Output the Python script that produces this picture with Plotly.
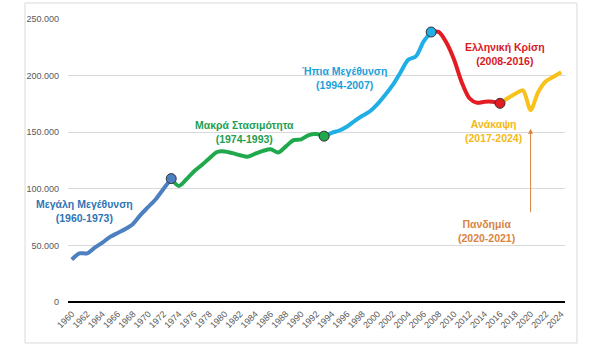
import plotly.graph_objects as go

years = list(range(1960, 2025))
gdp = [
    37500, 43000, 43000, 48000, 52500, 57500, 61000, 64500, 69000, 77000,
    84000, 91000, 100000, 109000, 102500, 108500, 115500, 121000, 127000, 132500,
    133000, 131500, 129700, 128300, 131000, 133500, 135000, 132000, 137500, 143000,
    143700, 147500, 148400, 146500, 149500, 151500, 155000, 160000, 164500, 168500,
    175000, 183000, 192000, 203000, 214000, 217000, 230000, 238500, 238500, 229000,
    214000, 194000, 180000, 176000, 177000, 177000, 175500, 180000, 184000, 187000,
    169500, 185500, 195000, 199000, 203000,
]

periods = [
    ("Μεγάλη Μεγέθυνση", 1960, 1973, "#4D80C0", "#2E75B6"),
    ("Μακρά Στασιμότητα", 1973, 1993, "#1FA84C", "#22A050"),
    ("Ήπια Μεγέθυνση", 1993, 2007, "#1FAEE6", "#1BA1D9"),
    ("Ελληνική Κρίση", 2007, 2016, "#E31B23", "#D7191F"),
    ("Ανάκαψη", 2016, 2024, "#F8C21B", "#F4B916"),
]
marker_years = [1973, 1993, 2007, 2016]
marker_colors = ["#4D80C0", "#1FA84C", "#1FAEE6", "#E31B23"]

labels = [
    ("Μεγάλη Μεγέθυνση<br>(1960-1973)", 1961.7, 80800, "#2E75B6"),
    ("Μακρά Στασιμότητα<br>(1974-1993)", 1982.6, 150200, "#22A050"),
    ("Ήπια Μεγέθυνση<br>(1994-2007)", 1995.6, 198300, "#1BA1D9"),
    ("Ελληνική Κρίση<br>(2008-2016)", 2016.7, 219500, "#D7191F"),
    ("Ανάκαψη<br>(2017-2024)", 2015.1, 151000, "#F4B916"),
    ("Πανδημία<br>(2020-2021)", 2014.2, 62900, "#D9843F"),
]

fig = go.Figure()
for name, y0, y1, col, _ in periods:
    i0, i1 = years.index(y0), years.index(y1)
    fig.add_trace(go.Scatter(
        x=years[i0:i1 + 1], y=gdp[i0:i1 + 1], mode="lines",
        line=dict(color=col, width=4, shape="spline", smoothing=0.8),
        hoverinfo="skip", showlegend=False,
    ))

fig.add_trace(go.Scatter(
    x=marker_years, y=[gdp[years.index(y)] for y in marker_years], mode="markers",
    marker=dict(color=marker_colors, size=10, line=dict(color="#333333", width=1)),
    showlegend=False, hoverinfo="skip",
))

for text, x, y, col in labels:
    fig.add_annotation(x=x, y=y, text="<b>" + text + "</b>", showarrow=False,
                       font=dict(family="Liberation Sans", size=10.5, color=col),
                       xanchor="center", yanchor="middle", align="center")

# pandemic arrow
fig.add_annotation(x=2020, y=153000, ax=2020, ay=78000, axref="x", ayref="y",
                   xref="x", yref="y", text="", showarrow=True, arrowhead=2,
                   arrowsize=1, arrowwidth=1, arrowcolor="#D9843F")

fig.add_shape(type="rect", xref="paper", yref="paper",
              x0=-0.0865, x1=1.0241, y0=-0.1449, y1=1.0565,
              line=dict(color="#D9D9D9", width=1), fillcolor="rgba(0,0,0,0)")

fig.update_layout(
    width=600, height=348, autosize=False,
    margin=dict(l=68, r=35, t=19, b=46),
    paper_bgcolor="white", plot_bgcolor="white",
    separators=",.",
    font=dict(family="Liberation Sans", color="#595959"),
    xaxis=dict(range=[1959.5, 2024.5], tickmode="linear", tick0=1960, dtick=2,
               tickangle=-45, showgrid=False, zeroline=False, showline=False,
               ticks="", tickfont=dict(size=9, color="#595959"), ticklabelstandoff=4),
    yaxis=dict(range=[0, 250000], tickmode="linear", tick0=0, dtick=50000,
               tickformat=",d", gridcolor="#D9D9D9", gridwidth=1,
               zeroline=True, zerolinecolor="black", zerolinewidth=2,
               showline=False, ticks="", tickfont=dict(size=9, color="#595959"),
               ticklabelstandoff=8),
)

fig.write_html("out.html")
